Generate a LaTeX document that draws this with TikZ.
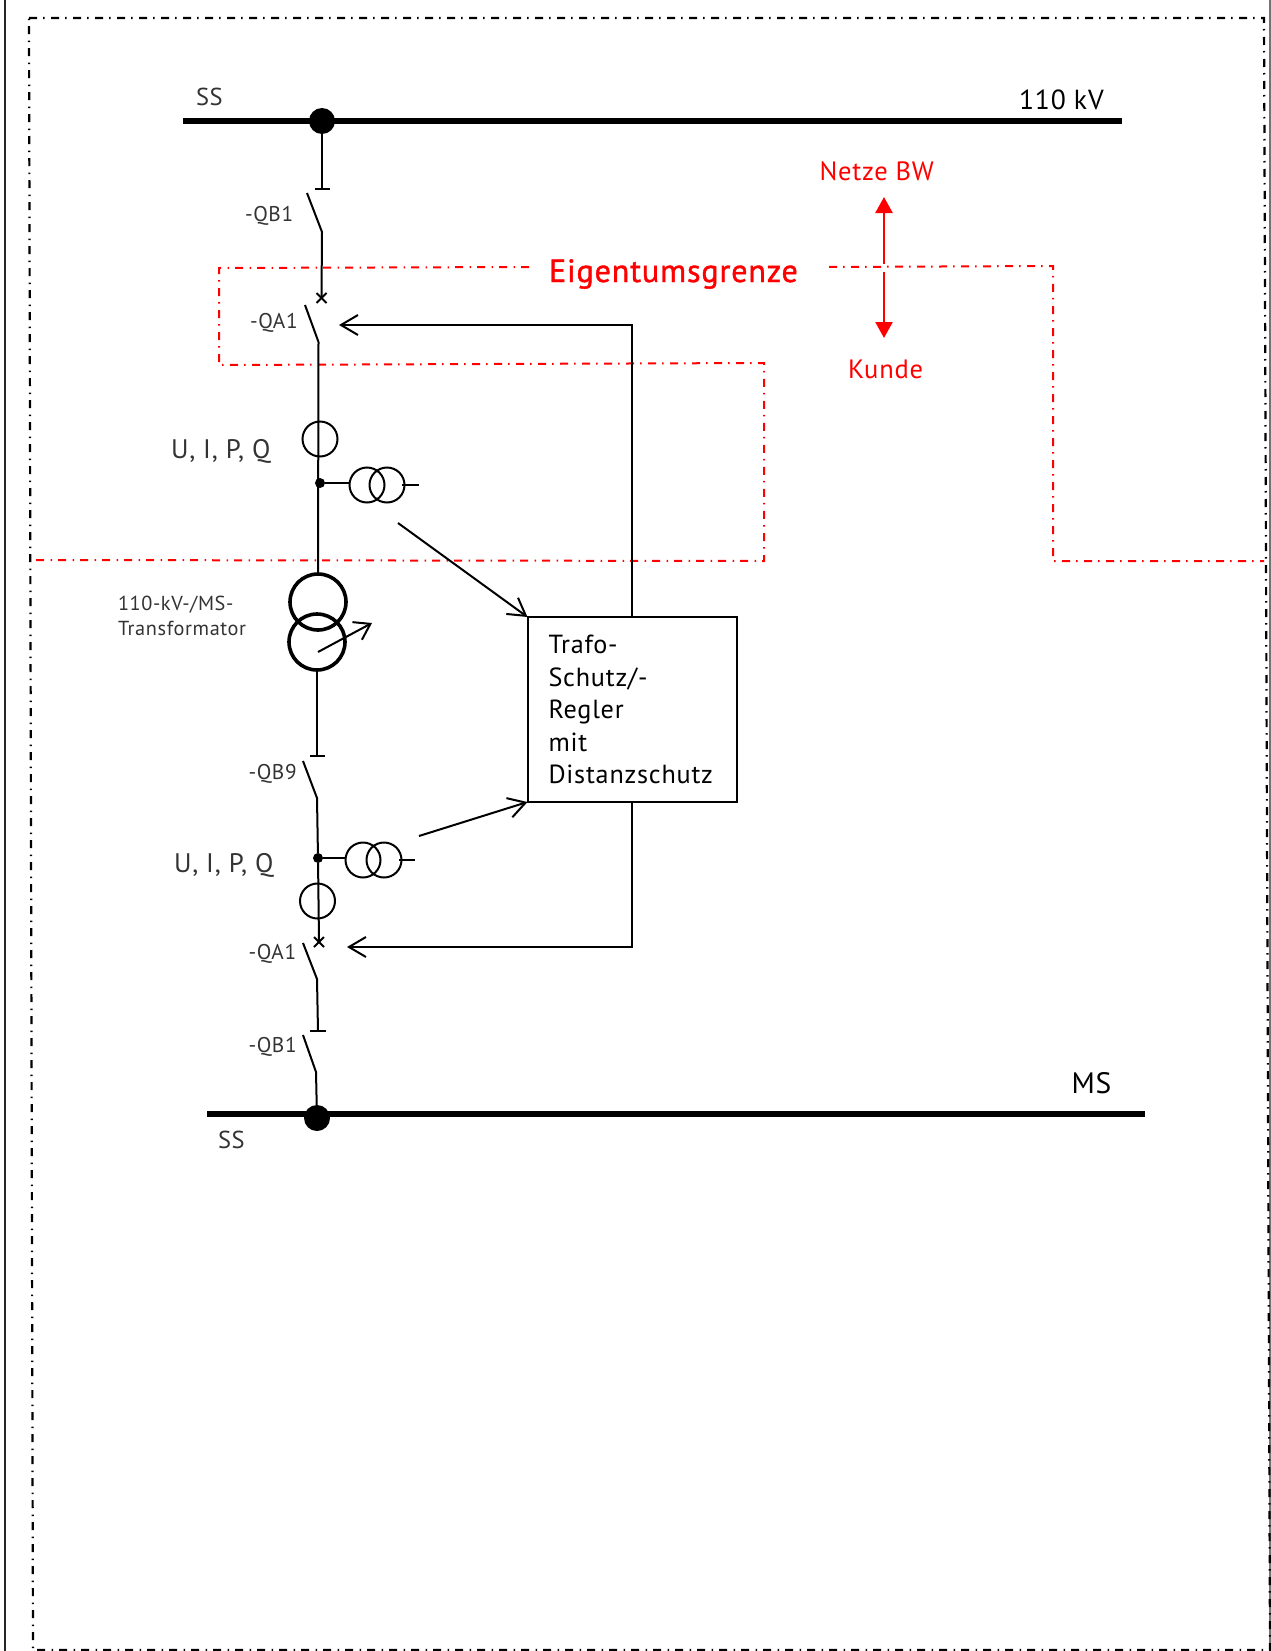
\documentclass[tikz,border=0pt]{standalone}
\usepackage{fontspec}
\setmainfont[LetterSpace=3]{PT Sans}
\newfontfamily\egfont[LetterSpace=2.5,FakeBold=1.2]{PT Sans}
\usetikzlibrary{arrows.meta,calc}
\definecolor{txt}{gray}{0.2}
\tikzset{
  wire/.style={line width=2pt,black},
  barb/.style={wire,-{Straight Barb[length=17pt,width=20pt,line width=2pt]}},
  bus/.style={line width=6pt,black},
  busdot/.style={circle,fill=black,minimum size=26pt,inner sep=0,outer sep=0},
  tapdot/.style={circle,fill=black,minimum size=10pt,inner sep=0,outer sep=0},
  ring/.style={circle,draw=black,line width=2pt,minimum size=35pt,inner sep=0,outer sep=0},
  bigring/.style={circle,draw=black,line width=3.6pt,minimum size=56pt,inner sep=0,outer sep=0},
  frameline/.style={line width=2.2pt,black,dash pattern=on 8pt off 6pt on 1.5pt off 6.5pt},
  redline/.style={line width=2pt,red,dash pattern=on 8pt off 6pt on 1.5pt off 6.5pt},
  redarrow/.style={line width=2.5pt,red,-{Triangle[length=16pt,width=17pt]}},
  lab/.style={anchor=base west,inner sep=0,outer sep=0,text=txt},
  small/.style={lab,font=\fontsize{21.3}{24}\selectfont},
  trlab/.style={lab,font=\fontsize{20.3}{24}\selectfont},
  mid/.style={lab,font=\fontsize{26.8}{30}\selectfont},
  redlab/.style={lab,text=red,font=\fontsize{26.5}{30}\selectfont},
  sslab/.style={lab,font=\fontsize{24.5}{26}\selectfont},
  schutz/.style={draw=black,line width=2pt,minimum width=209pt,minimum height=185pt,inner sep=0,outer sep=0,
     anchor=north west,align=left,text width=167pt,
     font=\fontsize{26.2}{32.5}\selectfont,text=black}
}
\begin{document}
\begin{tikzpicture}[x=1pt,y=-1pt]
\useasboundingbox (0,0) rectangle (1271,1651);
% outer lines
\draw[line width=2pt,black!85] (5,0) -- (5,1651);
\draw[line width=1.5pt,black!55] (1270,0) -- (1270,1651);
\draw[frameline] (29,18) -- (1264,18) -- (1270,1650) -- (33,1650) -- cycle;
% red border
\draw[redline] (529,267) -- (219,268) -- (219,365) -- (764,363) -- (764,561) -- (35,560);
\draw[redline] (829,267) -- (1053,266) -- (1053,561) -- (1264,561);
% nodes
\node[busdot] (d1) at (322,121) {};
\node[busdot] (d2) at (317,1118) {};
\node[schutz] (box) at (527.5,617) {Trafo-\\Schutz/-\\Regler\\mit\\Distanzschutz};
\node[ring] (ct1) at (320,439) {};
\node[ring] (vt1a) at (367,485) {};
\node[ring] (vt1b) at (387,485) {};
\node[tapdot] (t1) at (320,483) {};
\node[ring] (ct2) at (317.5,901) {};
\node[ring] (vt2a) at (363,860) {};
\node[ring] (vt2b) at (384,860) {};
\node[tapdot] (t2) at (318,858) {};
\node[bigring] (tr1) at (318,602) {};
\node[bigring] (tr2) at (317,642) {};
% coordinates
\coordinate (b1l) at (183,121); \coordinate (b1r) at (1122,121);
\coordinate (b2l) at (207,1114); \coordinate (b2r) at (1145,1114);
\coordinate (c1) at (322,189); \coordinate (c1l) at (314.5,189); \coordinate (c1r) at (330,189);
\coordinate (s1a) at (307,193); \coordinate (s1b) at (322,232);
\coordinate (x1) at (321.5,298);
\coordinate (s2a) at (305,305); \coordinate (s2b) at (318.5,342);
\coordinate (q1) at (339,325);
\coordinate (st1a) at (402,485); \coordinate (st1b) at (419,485);
\coordinate (m1) at (398,523);
\coordinate (tap0) at (318,652); \coordinate (tap1) at (372,623);
\coordinate (c2) at (317,756); \coordinate (c2l) at (310,756); \coordinate (c2r) at (325,756);
\coordinate (s3a) at (303,761); \coordinate (s3b) at (317,798);
\coordinate (st2a) at (399,860); \coordinate (st2b) at (415,860);
\coordinate (m2) at (419,836);
\coordinate (x2) at (319,942);
\coordinate (q2) at (347,947);
\coordinate (s4a) at (303,943); \coordinate (s4b) at (317,979);
\coordinate (c3) at (318,1031); \coordinate (c3l) at (310,1031); \coordinate (c3r) at (326,1031);
\coordinate (s5a) at (303,1035); \coordinate (s5b) at (316,1072);
% busbars
\draw[bus] (b1l) -- (b1r);
\draw[bus] (b2l) -- (b2r);
% top feeder
\draw[wire] (d1) -- (c1);
\draw[wire] (c1l) -- (c1r);
\draw[wire] (s1a) -- (s1b) -- (x1);
\draw[wire] ($(x1)+(-5,-5)$) -- ($(x1)+(5,5)$);
\draw[wire] ($(x1)+(-5,5)$) -- ($(x1)+(5,-5)$);
\draw[wire] (s2a) -- (s2b);
\draw[wire] (s2b) -- (tr1.north);
\draw[wire] (t1) -- (t1 -| vt1a.west);
\draw[wire] (st1a) -- (st1b);
% transformer
\draw[wire] (tr2.south) -- (c2);
\draw[wire] (c2l) -- (c2r);
\draw[wire,-{Straight Barb[length=15pt,width=20pt,line width=2pt]}] (tap0) -- (tap1);
% bottom feeder
\draw[wire] (s3a) -- (s3b) -- (t2) -- (x2);
\draw[wire] ($(x2)+(-5,-5)$) -- ($(x2)+(5,5)$);
\draw[wire] ($(x2)+(-5,5)$) -- ($(x2)+(5,-5)$);
\draw[wire] (t2) -- (t2 -| vt2a.west);
\draw[wire] (st2a) -- (st2b);
\draw[wire] (s4a) -- (s4b) -- (c3);
\draw[wire] (c3l) -- (c3r);
\draw[wire] (s5a) -- (s5b) -- (d2);
% signals
\draw[barb] (m1) -- (box.north west);
\draw[barb] (m2) -- (box.south west);
\draw[barb] (box.north) |- (q1);
\draw[barb] (box.south) |- (q2);
% red arrows
\coordinate (ra0) at (884,264); \coordinate (ra1) at (884,197);
\coordinate (ra2) at (884,272); \coordinate (ra3) at (884,338);
\draw[redarrow] (ra0) -- (ra1);
\draw[redarrow] (ra2) -- (ra3);
% labels
\node[sslab] (tss1) at (196,106) {SS};
\node[sslab] (tss2) at (218,1148) {SS};
\node[lab,text=black,font=\fontsize{27.6}{32}\selectfont] (t110) at (1019,110) {110 kV};
\node[lab,text=black,font=\fontsize{29.5}{32}\selectfont] (tms) at (1071.5,1093.5) {MS};
\node[small] (tqb1) at (245,221.5) {-QB1};
\node[small] (tqa1) at (250,328) {-QA1};
\node[small] (tqb9) at (248.5,779) {-QB9};
\node[small] (tqa2) at (248.5,959) {-QA1};
\node[small] (tqb3) at (248.5,1052) {-QB1};
\node[mid] (tu1) at (171,458) {U, I, P, Q};
\node[mid] (tu2) at (174,872) {U, I, P, Q};
\node[trlab] (ttr1) at (118,610) {110-kV-/MS-};
\node[trlab] (ttr2) at (118,635) {Transformator};
\node[redlab] (tnb) at (819.5,180) {Netze BW};
\node[redlab] (tku) at (848,378) {Kunde};
\node[lab,text=red,font=\egfont\fontsize{32.2}{36}\selectfont] (teg) at (549,282) {Eigentumsgrenze};
\end{tikzpicture}
\end{document}
